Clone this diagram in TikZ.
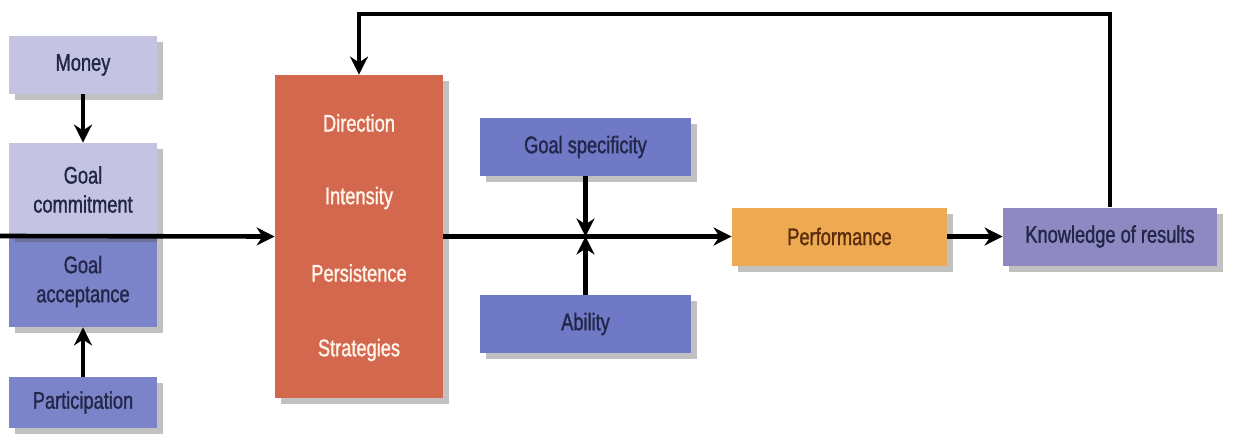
\documentclass[tikz,border=0pt]{standalone}
\usepackage{fontspec}
\setmainfont{Liberation Sans}[FakeStretch=0.76,FakeBold=1.2]
\usetikzlibrary{arrows.meta,shadows}

\definecolor{lilac}{HTML}{C4C4E2}
\definecolor{blueish}{HTML}{7C84C9}
\definecolor{slate}{HTML}{6F79C6}
\definecolor{brick}{HTML}{D4684E}
\definecolor{amber}{HTML}{EEAA52}
\definecolor{mauve}{HTML}{8E89C1}
\definecolor{navy}{HTML}{222649}
\definecolor{umber}{HTML}{5A2C0C}

\tikzset{
  box/.style={draw=none,inner sep=2pt,align=center,font=\fontsize{12}{14.5}\selectfont,
    text=navy,drop shadow={shadow xshift=3pt,shadow yshift=-3pt,opacity=.35,fill=black!70}},
  redtext/.style={text=white!92!orange,font=\fontsize{12}{14}\selectfont},
  arr/.style={line width=2.3pt,-{Stealth[length=9pt,width=9pt]}}
}

\begin{document}
\begin{tikzpicture}[x=0.5pt,y=-0.5pt]
  \useasboundingbox (0,0) rectangle (1236,444);
  % left column
  \node[box,fill=lilac,minimum width=74pt,minimum height=29pt] (money) at (83,65) {Money};
  \node[box,fill=blueish,minimum width=74pt,minimum height=45.5pt] (accept) at (83,281.5) {Goal\\acceptance};
  \node[box,fill=lilac,minimum width=74pt,minimum height=46.5pt] (commit) at (83,189.5) {Goal\\commitment};
  \node[box,fill=blueish,minimum width=74pt,minimum height=25.5pt] (partic) at (83,402.5) {Participation};
  % mechanisms
  \node[box,fill=brick,minimum width=84pt,minimum height=161.5pt] (mech) at (359,236.5) {};
  \node[redtext] (dir) at (359,123) {Direction};
  \node[redtext] (inten) at (359,198) {Intensity};
  \node[redtext] (pers) at (359,273) {Persistence};
  \node[redtext] (strat) at (359,350) {Strategies};
  % moderators
  \node[box,fill=slate,minimum width=105.5pt,minimum height=29pt] (spec) at (585.5,147) {Goal specificity};
  \node[box,fill=slate,minimum width=105.5pt,minimum height=29pt] (abil) at (585.5,324) {Ability};
  % outcomes
  \node[box,fill=amber,text=umber,minimum width=107.5pt,minimum height=29pt] (perf) at (839.5,236.5) {Performance};
  \node[box,fill=mauve,minimum width=107pt,minimum height=29pt] (know) at (1110,236.5) {Knowledge of results};

  \coordinate (start) at (0,236);
  \coordinate (mid) at (spec.south |- mech.east);

  \draw[arr] (money) -- (commit);
  \draw[arr] (partic) -- (accept);
  \draw[arr] (start) -- (mech.west);
  \draw[arr] (mech.east) -- (perf.west);
  \draw[arr] (spec.south) -- (mid);
  \draw[arr] (abil.north) -- (mid);
  \draw[arr] (perf.east) -- (know.west);
  \draw[arr] (know.north) -- ++(0,-193) -| (mech.north);
\end{tikzpicture}
\end{document}
